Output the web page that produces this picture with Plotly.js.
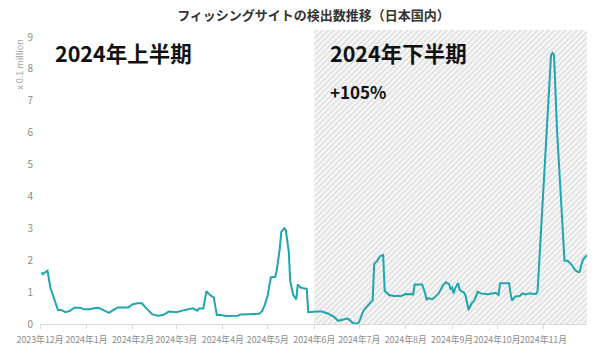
<!DOCTYPE html>
<html>
<head>
<meta charset="utf-8">
<script src="https://cdn.plot.ly/plotly-3.0.1.min.js"></script>
<style>html,body{margin:0;padding:0;background:#fff;}#chart{width:600px;height:353px;}</style>
</head>
<body>
<div id="chart"></div>
<script>
// Daily detections (x 0.1 million)
const dates = [
'2023-12-02','2023-12-03','2023-12-04','2023-12-06','2023-12-08','2023-12-10','2023-12-13','2023-12-15','2023-12-18','2023-12-21',
'2023-12-24','2023-12-28','2023-12-30','2024-01-03','2024-01-08','2024-01-10','2024-01-16','2024-01-19','2024-01-22','2024-01-29',
'2024-02-01','2024-02-04','2024-02-07','2024-02-10','2024-02-14','2024-02-18','2024-02-21','2024-02-25','2024-03-01','2024-03-05',
'2024-03-09','2024-03-12','2024-03-15','2024-03-16','2024-03-19','2024-03-21','2024-03-24','2024-03-26','2024-03-28','2024-03-31',
'2024-04-03','2024-04-09','2024-04-11','2024-04-13','2024-04-19','2024-04-25','2024-04-27','2024-04-29','2024-05-01','2024-05-03',
'2024-05-06','2024-05-07','2024-05-09','2024-05-10','2024-05-12','2024-05-13','2024-05-15','2024-05-16','2024-05-18','2024-05-20',
'2024-05-21','2024-05-23','2024-05-27','2024-05-28','2024-06-03','2024-06-06','2024-06-10','2024-06-14','2024-06-17','2024-06-19',
'2024-06-23','2024-06-24','2024-06-27','2024-06-30','2024-07-01','2024-07-04','2024-07-08','2024-07-10','2024-07-11','2024-07-13',
'2024-07-15','2024-07-17','2024-07-18','2024-07-21','2024-07-24','2024-07-29','2024-08-01','2024-08-06','2024-08-07','2024-08-12',
'2024-08-14','2024-08-15','2024-08-16','2024-08-19','2024-08-23','2024-08-26','2024-08-28','2024-08-30','2024-08-31','2024-09-01',
'2024-09-02','2024-09-03','2024-09-05','2024-09-06','2024-09-09','2024-09-10','2024-09-12','2024-09-14','2024-09-16','2024-09-18',
'2024-09-20','2024-09-25','2024-09-30','2024-10-02','2024-10-03','2024-10-09','2024-10-10','2024-10-11','2024-10-13','2024-10-16',
'2024-10-18','2024-10-20','2024-10-22','2024-10-25','2024-10-27','2024-10-28','2024-10-29','2024-10-30','2024-11-01','2024-11-03',
'2024-11-06','2024-11-07','2024-11-08','2024-11-10','2024-11-12','2024-11-14','2024-11-15','2024-11-17','2024-11-20','2024-11-22',
'2024-11-24','2024-11-25','2024-11-27','2024-11-28','2024-11-30'
];
const values = [
1.62,1.56,1.61,1.67,1.12,0.86,0.44,0.44,0.37,0.41,
0.51,0.51,0.46,0.46,0.51,0.49,0.35,0.44,0.52,0.52,
0.62,0.65,0.65,0.49,0.30,0.26,0.28,0.39,0.37,0.42,
0.46,0.49,0.42,0.49,0.49,1.03,0.89,0.83,0.28,0.28,
0.25,0.25,0.26,0.30,0.30,0.32,0.39,0.60,0.91,1.46,
1.48,1.69,2.37,2.89,3.00,2.95,2.27,1.33,0.91,0.77,
1.24,1.14,1.10,0.37,0.39,0.39,0.33,0.23,0.10,0.13,
0.17,0.15,0.02,0.01,0.07,0.44,0.67,0.75,1.88,1.98,
2.13,2.16,1.04,0.91,0.88,0.88,0.94,0.93,1.24,1.24,
0.96,0.75,0.81,0.78,0.96,1.22,1.31,1.25,1.10,1.14,
0.96,1.12,1.29,1.07,0.98,0.88,0.44,0.65,0.75,1.01,
0.96,0.93,0.98,0.91,1.28,1.28,0.96,0.73,0.86,0.88,
0.96,0.93,0.96,0.94,0.94,1.01,1.80,2.63,4.51,6.08,
8.43,8.50,8.43,6.08,4.51,2.63,1.98,1.98,1.85,1.69,
1.63,1.63,1.98,2.06,2.16
];
// Month ticks
const tickDates = ['2023-12-01','2024-01-01','2024-02-01','2024-03-01','2024-04-01','2024-05-01','2024-06-01','2024-07-01','2024-08-01','2024-09-01','2024-10-01','2024-11-01'];
const tickLabels = ['2023年12月','2024年1月','2024年2月','2024年3月','2024年4月','2024年5月','2024年6月','2024年7月','2024年8月','2024年9月','2024年10月','2024年11月'];
// Periods
const axisRange = ['2023-12-01','2024-11-30'];
const secondHalf = ['2024-06-01','2024-11-30'];
const yMax = 9.22;
const yTicks = [0,1,2,3,4,5,6,7,8,9];
const labels = {title:'フィッシングサイトの検出数推移（日本国内）', unit:'x 0.1 million', h1:'2024年上半期', h2:'2024年下半期', growth:'+105%'};

const FONT = 'Noto Sans CJK JP, Noto Sans, sans-serif';

const hatch = {
  x:[secondHalf[0],secondHalf[1],secondHalf[1],secondHalf[0],secondHalf[0]],
  y:[0,0,yMax,yMax,0],
  type:'scatter', mode:'lines', fill:'toself',
  line:{width:0,color:'rgba(0,0,0,0)'},
  fillcolor:'#f6f6f6',
  fillpattern:{shape:'/', fgcolor:'#d8d8d8', bgcolor:'#f7f7f7', size:4, solidity:0.3},
  hoverinfo:'skip', showlegend:false
};
const line = {
  x:dates, y:values, type:'scatter', mode:'lines',
  line:{color:'#1fa5ad', width:2},
  showlegend:false, hoverinfo:'skip'
};

const layout = {
  width:600, height:353,
  margin:{l:40, r:13, t:30, b:29},
  paper_bgcolor:'#fff', plot_bgcolor:'#fff',
  font:{family:FONT, color:'#888'},
  title:{text:labels.title, x:0.5, xref:'paper', xanchor:'center', y:0.955, yref:'container', yanchor:'middle',
         font:{family:FONT, size:13, color:'#333', weight:700}},
  xaxis:{type:'date', range:axisRange, tickvals:tickDates, ticktext:tickLabels, tickangle:0,
         showgrid:false, zeroline:false, showline:true, linecolor:'#d9d9d9', linewidth:1,
         ticks:'outside', ticklen:4, tickcolor:'#d9d9d9', ticklabelstandoff:3,
         tickfont:{family:FONT, size:8.8, color:'#8a8a8a'}},
  yaxis:{range:[0,yMax], tickvals:yTicks, showgrid:false, zeroline:false, showline:false,
         ticklabelstandoff:6, tickfont:{family:FONT, size:10, color:'#8a8a8a'}},
  annotations:[
    {text:labels.unit, xref:'paper', yref:'paper', x:-0.037, y:0.973, xanchor:'center', yanchor:'top',
     textangle:-90, showarrow:false, font:{family:FONT, size:9, color:'#a0a0a0'}},
    {text:labels.h1, xref:'paper', yref:'paper', x:0.0238, y:0.925, xanchor:'left', yanchor:'middle',
     showarrow:false, font:{family:FONT, size:21.5, color:'#111', weight:700}},
    {text:labels.h2, xref:'paper', yref:'paper', x:0.5265, y:0.925, xanchor:'left', yanchor:'middle',
     showarrow:false, font:{family:FONT, size:21.5, color:'#111', weight:700}},
    {text:labels.growth, xref:'paper', yref:'paper', x:0.5265, y:0.7925, xanchor:'left', yanchor:'middle',
     showarrow:false, font:{family:FONT, size:17, color:'#111', weight:700}}
  ],
  hovermode:false
};
Plotly.newPlot('chart',[hatch,line],layout,{staticPlot:true, displayModeBar:false});
</script>
</body>
</html>
